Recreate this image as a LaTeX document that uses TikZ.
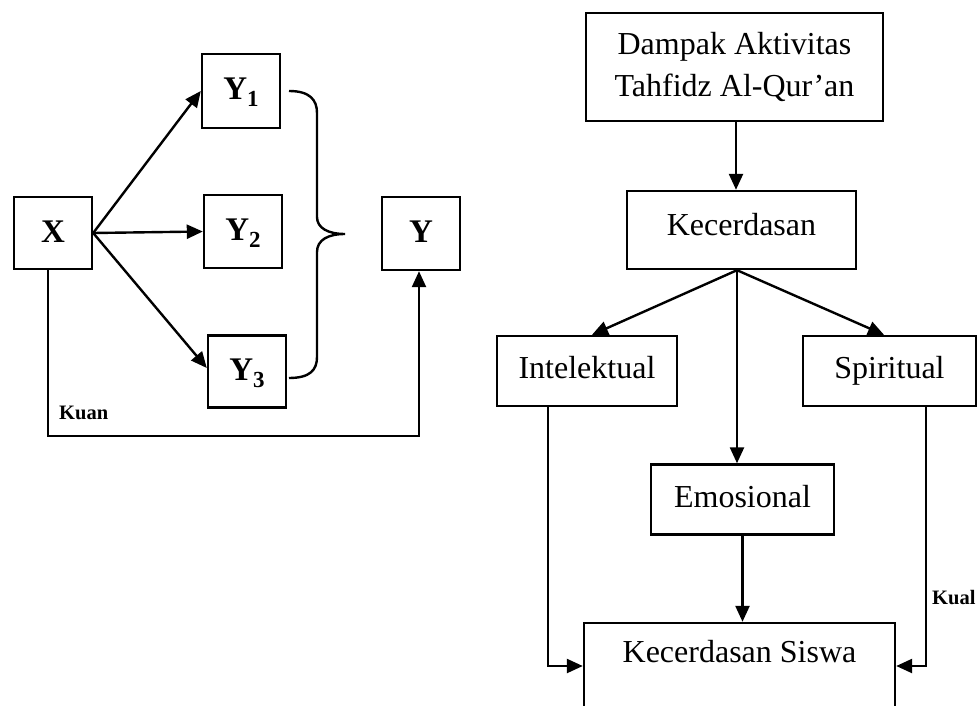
\documentclass[tikz,border=0pt]{standalone}
\usepackage{fontspec}
\setmainfont{Liberation Serif}
\usetikzlibrary{arrows.meta}
\begin{document}
\begin{tikzpicture}[x=1pt,y=-1pt,
  line width=2.4pt,
  box/.style={draw,line width=2.4pt,inner sep=0pt,align=center,
    font=\fontsize{32}{42}\selectfont},
  vbox/.style={draw,line width=2.4pt,inner sep=0pt,minimum width=78pt,
    text height=22pt,text depth=4pt,
    font=\fontsize{33}{36}\selectfont\bfseries},
  arr/.style={-{Triangle[length=16pt,width=14pt]},line width=2.4pt},
  lbl/.style={font=\fontsize{20.5}{24}\selectfont\bfseries,inner sep=0pt}]
\useasboundingbox (0,0) rectangle (977,706);
\clip (0,0) rectangle (977,706);
% left diagram
\node[vbox,minimum height=72pt] (x) at (53,233) {X};
\node[vbox,minimum height=74pt] (y1) at (241,91) {Y\raisebox{-0.2em}{\fontsize{23}{23}\selectfont 1}};
\node[vbox,minimum height=73pt] (y2) at (243,231.5) {Y\raisebox{-0.2em}{\fontsize{23}{23}\selectfont 2}};
\node[vbox,minimum height=72pt] (y3) at (247,371.5) {Y\raisebox{-0.2em}{\fontsize{23}{23}\selectfont 3}};
\node[vbox,minimum height=73pt] (y) at (421,233.5) {Y};
\draw[arr] (x.east) -- (y1.west);
\draw[arr] (x.east) -- (y2.west);
\draw[arr] (x.east) -- ([yshift=3.5pt]y3.west);
\coordinate (xb) at ([xshift=-5pt]x.south);
\coordinate (corner) at (48,436);
\draw[arr] (xb) -- (corner) -| ([xshift=-2pt]y.south);
\node[lbl,anchor=west] (kuan) at (58,413) {Kuan};
% brace
\coordinate (bt) at (289,91);
\coordinate (bb) at (289,378);
\coordinate (tip) at (345,234);
\draw (bt) .. controls (310,91) and (317,100) .. (317,113)
  -- (317,217) .. controls (317,228) and (328,234) .. (tip)
  .. controls (328,234) and (317,240) .. (317,252)
  -- (317,357) .. controls (317,370) and (310,378) .. (bb);
% right diagram
\node[box,minimum width=297pt,minimum height=108pt] (dampak) at (734.5,67) {Dampak Aktivitas\\Tahfidz Al-Qur’an};
\node[box,minimum width=229pt,minimum height=78pt] (kec) at (741.5,230) {\raisebox{11pt}{Kecerdasan}};
\node[box,minimum width=180pt,minimum height=70pt,text height=22pt,text depth=7pt] (intel) at (587,371) {Intelektual};
\node[box,minimum width=173pt,minimum height=70pt,text height=22pt,text depth=7pt] (spirit) at (889.5,371) {Spiritual};
\node[box,minimum width=183pt,minimum height=70pt,text height=22pt,text depth=7pt] (emo) at (742.5,499.5) {Emosional};
\node[box,minimum width=311pt,minimum height=86pt] (siswa) at (739.5,666) {};
\node[box,draw=none] (siswatext) at ([yshift=-30pt]siswa.north) {Kecerdasan Siswa};
\coordinate (dk) at ([xshift=-5.5pt]kec.north);
\draw[arr] (dk |- dampak.south) -- (dk);
\coordinate (ks) at ([xshift=-4.5pt]kec.south);
\draw[arr] (ks) -- ([xshift=5pt]intel.north);
\draw[arr] (ks) -- ([xshift=-5.5pt]spirit.north);
\draw[arr] (ks) -- (ks |- emo.north);
\draw[arr] (emo.south) -- (emo.south |- siswa.north);
\draw[arr] ([xshift=-39pt]intel.south) |- (siswa.west);
\draw[arr] ([xshift=36.5pt]spirit.south) |- (siswa.east);
\node[lbl,anchor=west] (kual) at (931,598) {Kual};
\end{tikzpicture}
\end{document}
